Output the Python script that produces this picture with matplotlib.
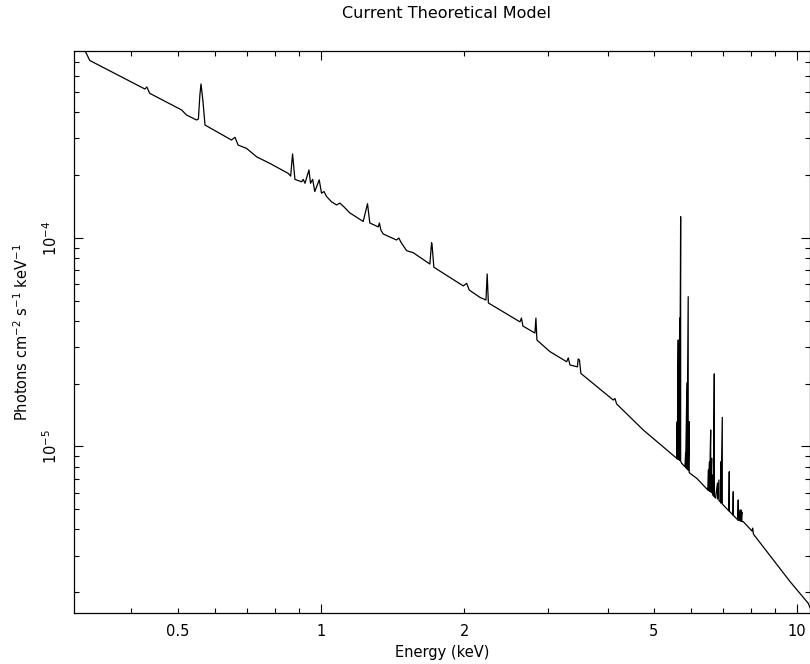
import matplotlib
matplotlib.use("Agg")
import matplotlib.pyplot as plt
from matplotlib.ticker import FixedLocator, FuncFormatter, NullFormatter

# Model spectrum (energy in keV, flux in photons/cm^2/s/keV)
energy_kev = [
    0.300, 0.318, 0.327, 0.427, 0.431, 0.437, 0.510, 0.522, 0.548,
    0.553, 0.557, 0.560, 0.565, 0.571,
    0.649, 0.660, 0.670, 0.698, 0.733, 0.781, 0.854, 0.864, 0.872, 0.882,
    0.911, 0.918, 0.926, 0.944, 0.951, 0.961, 0.971, 0.992, 1.003, 1.015,
    1.028, 1.053, 1.079, 1.096, 1.118, 1.150, 1.227, 1.253, 1.267, 1.299,
    1.320, 1.327, 1.337, 1.352, 1.442, 1.458, 1.472, 1.514, 1.563, 1.694,
    1.708, 1.712, 1.727, 1.991, 2.024, 2.049, 2.158, 2.222, 2.235, 2.248,
    2.619, 2.638, 2.657, 2.816, 2.829, 2.843, 3.028, 3.283, 3.308, 3.336,
    3.458, 3.471, 3.492, 3.517, 4.113, 4.146, 4.180, 4.755, 5.588,
    5.604, 5.604, 5.631, 5.631, 5.658, 5.658, 5.670, 5.670, 5.697, 5.697,
    5.725, 5.817, 5.836, 5.836, 5.873, 5.873, 5.909, 5.909, 5.938, 5.938,
    5.959, 6.157, 6.501,
    6.518, 6.518, 6.550, 6.550, 6.588, 6.588, 6.620, 6.620, 6.652, 6.652,
    6.678, 6.704, 6.704, 6.743, 6.808, 6.808, 6.857, 6.857, 6.907,
    6.924, 6.924, 6.968, 6.968, 7.000, 7.196, 7.207, 7.207, 7.337,
    7.348, 7.348, 7.516, 7.527, 7.527, 7.590, 7.590, 7.630, 7.630,
    7.660, 7.660, 7.713, 8.046, 8.070, 8.100, 8.920, 9.670, 10.56, 10.75,
]
flux = [
    8.6e-4, 8.1e-4, 7.10e-4, 5.18e-4, 5.30e-4, 4.94e-4, 4.11e-4, 3.89e-4, 3.68e-4,
    3.72e-4, 4.85e-4, 5.48e-4, 4.59e-4, 3.48e-4,
    2.95e-4, 3.04e-4, 2.79e-4, 2.69e-4, 2.45e-4, 2.28e-4, 2.04e-4, 1.98e-4, 2.53e-4, 1.91e-4,
    1.86e-4, 1.91e-4, 1.83e-4, 2.12e-4, 1.83e-4, 1.91e-4, 1.67e-4, 1.90e-4, 1.64e-4, 1.67e-4,
    1.58e-4, 1.49e-4, 1.44e-4, 1.47e-4, 1.41e-4, 1.32e-4, 1.20e-4, 1.46e-4, 1.18e-4, 1.15e-4,
    1.13e-4, 1.18e-4, 1.09e-4, 1.045e-4, 9.78e-5, 1.0e-4, 9.56e-5, 8.69e-5, 8.50e-5, 7.50e-5,
    9.49e-5, 9.27e-5, 7.24e-5, 5.89e-5, 6.06e-5, 5.63e-5, 5.19e-5, 5.04e-5, 6.72e-5, 4.88e-5,
    3.96e-5, 4.13e-5, 3.78e-5, 3.50e-5, 4.13e-5, 3.24e-5, 2.85e-5, 2.55e-5, 2.66e-5, 2.46e-5,
    2.41e-5, 2.63e-5, 2.60e-5, 2.24e-5, 1.67e-5, 1.70e-5, 1.60e-5, 1.20e-5, 8.78e-6,
    1.315e-5, 8.7e-6, 3.24e-5, 8.7e-6, 3.24e-5, 8.6e-6, 4.13e-5, 8.6e-6, 1.265e-4, 8.5e-6,
    8.31e-6, 8.00e-6, 9.31e-6, 7.9e-6, 2.02e-5, 7.8e-6, 5.23e-5, 7.7e-6, 1.315e-5, 7.5e-6,
    7.44e-6, 7.04e-6, 6.18e-6,
    7.72e-6, 6.15e-6, 8.43e-6, 6.1e-6, 1.20e-5, 6.05e-6, 8.78e-6, 6.0e-6, 7.30e-6, 5.9e-6,
    5.79e-6, 2.23e-5, 5.75e-6, 5.66e-6, 6.68e-6, 5.6e-6, 6.91e-6, 5.5e-6, 5.42e-6,
    8.46e-6, 5.35e-6, 1.38e-5, 5.3e-6, 5.24e-6, 4.91e-6, 7.57e-6, 4.9e-6, 4.69e-6,
    6.07e-6, 4.68e-6, 4.44e-6, 5.54e-6, 4.43e-6, 4.96e-6, 4.4e-6, 4.96e-6, 4.38e-6,
    4.85e-6, 4.37e-6, 4.36e-6, 3.93e-6, 4.06e-6, 3.80e-6, 2.86e-6, 2.25e-6, 1.77e-6, 1.61e-6,
]

x_major = [1, 10]
x_minor = [0.4, 0.5, 0.6, 0.7, 0.8, 0.9, 2, 3, 4, 5, 6, 7, 8, 9]
x_minor_labels = {0.5: "0.5", 2: "2", 5: "5"}
y_major = [1e-5, 1e-4]
y_major_labels = [r"$10^{-5}$", r"$10^{-4}$"]
y_minor = [m * 10.0 ** e for e in (-6, -5, -4) for m in range(2, 10)]

title = "Current Theoretical Model"
xlabel = "Energy (keV)"
ylabel = r"Photons cm$^{-2}$ s$^{-1}$ keV$^{-1}$"

plt.rcParams["font.family"] = ["DejaVu Sans"]
fig = plt.figure(figsize=(8.10, 6.64), dpi=100)
ax = fig.add_axes([74 / 810, 1 - 613.3 / 664, 1 - 74 / 810, (613.3 - 50.7) / 664])

ax.plot(energy_kev, flux, color="black", linewidth=0.9)
ax.set_xscale("log")
ax.set_yscale("log")
ax.set_xlim(0.303, 10.65)
ax.set_ylim(1.585e-6, 7.91e-4)

ax.xaxis.set_major_locator(FixedLocator(x_major))
ax.xaxis.set_minor_locator(FixedLocator(x_minor))
ax.xaxis.set_major_formatter(FuncFormatter(lambda v, p: "%g" % v))
ax.xaxis.set_minor_formatter(FuncFormatter(
    lambda v, p: x_minor_labels.get(round(v, 3), "")))
ax.yaxis.set_major_locator(FixedLocator(y_major))
ax.yaxis.set_minor_locator(FixedLocator(y_minor))
ax.set_yticklabels(y_major_labels)
ax.yaxis.set_minor_formatter(NullFormatter())

for which, length in (("major", 6.5), ("minor", 3.6)):
    ax.tick_params(axis="both", which=which, direction="in", length=length,
                   width=0.8, top=True, right=True, labelsize=10.5, pad=8,
                   colors="black")
ax.tick_params(axis="y", which="major", pad=10)
for lbl in ax.get_yticklabels():
    lbl.set_rotation(90)
    lbl.set_va("center")
for s in ax.spines.values():
    s.set_linewidth(0.9)

ax.set_xlabel(xlabel, fontsize=10.5)
ax.xaxis.set_label_coords(0.5, -0.057)
ax.set_ylabel(ylabel, fontsize=10.5)
ax.yaxis.set_label_coords(-0.059, 0.5)
fig.text((74 + 810) / 2 / 810 + 0.006, 1 - 13 / 664, title, ha="center",
         va="center", fontsize=11.5)

fig.savefig("out.png", dpi=100)
